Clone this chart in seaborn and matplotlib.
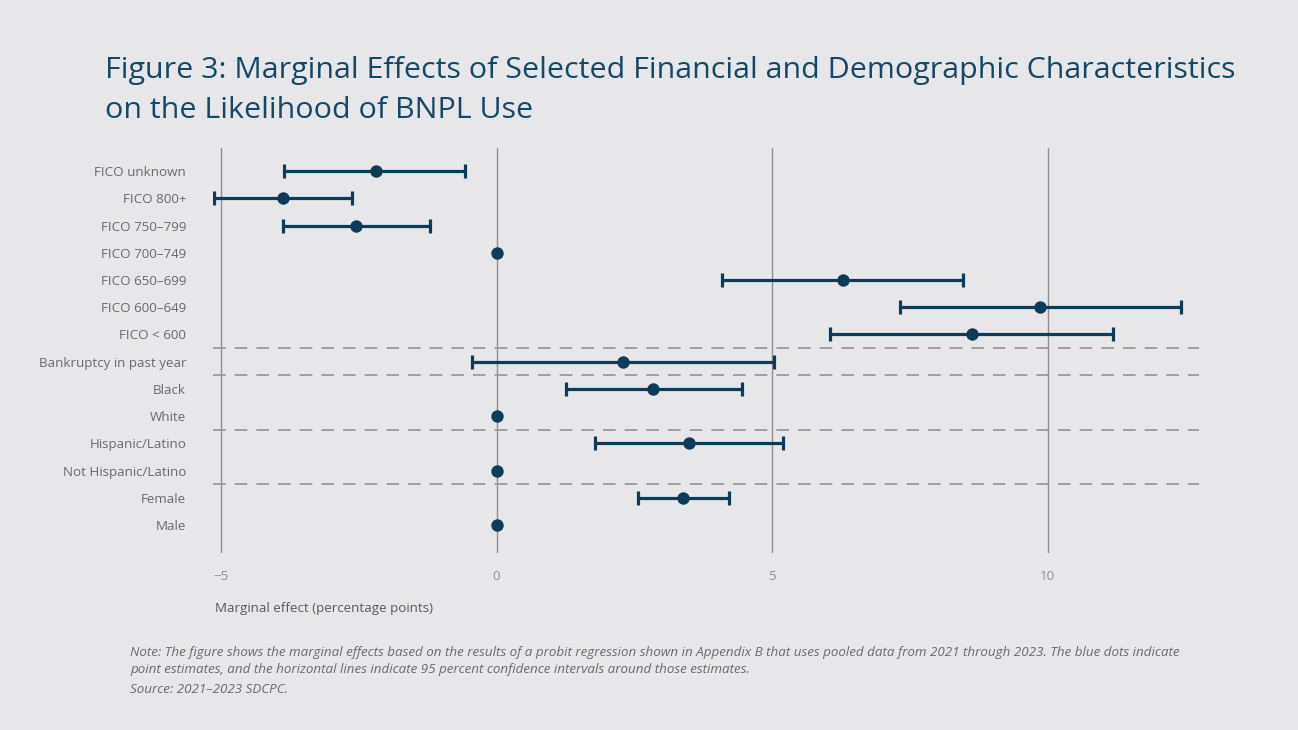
import numpy as np
import pandas as pd
import matplotlib
matplotlib.use("Agg")
import matplotlib.pyplot as plt
import seaborn as sns

# Data (percentage points)
labels = ["FICO unknown", "FICO 800+", "FICO 750–799", "FICO 700–749",
          "FICO 650–699", "FICO 600–649", "FICO < 600",
          "Bankruptcy in past year", "Black", "White",
          "Hispanic/Latino", "Not Hispanic/Latino", "Female", "Male"]
estimate = [-2.19, -3.87, -2.55, 0.0, 6.29, 9.86, 8.62,
            2.29, 2.84, 0.0, 3.49, 0.0, 3.38, 0.0]
ci_low = [-3.85, -5.12, -3.87, np.nan, 4.09, 7.32, 6.05,
          -0.44, 1.26, np.nan, 1.79, np.nan, 2.57, np.nan]
ci_high = [-0.57, -2.62, -1.21, np.nan, 8.46, 12.41, 11.18,
           5.03, 4.45, np.nan, 5.20, np.nan, 4.22, np.nan]
group_breaks = [6.5, 7.5, 9.5, 11.5]
x_ticks = [-5, 0, 5, 10]
x_tick_labels = ["\u22125", "0", "5", "10"]

df = pd.DataFrame({"label": labels, "est": estimate, "lo": ci_low, "hi": ci_high})
df["pos"] = np.arange(len(df))

BG = "#e7e7e9"
NAVY = "#0d3b58"
GRID = "#8f8f8f"

sns.set_theme(style="white")
plt.rcParams["font.family"] = ["Open Sans", "DejaVu Sans"]

fig = plt.figure(figsize=(12.98, 7.3), dpi=100, facecolor=BG)
ax = fig.add_axes([0.1638, 0.2425, 0.7603, 0.5548])
ax.set_facecolor(BG)

# vertical reference lines
for xv in x_ticks:
    ax.axvline(xv, color=GRID, lw=1.0, zorder=1)

# dashed separators between groups
for yb in group_breaks:
    ax.axhline(yb, color="#9a9a9a", lw=1.3, ls=(0, (7, 5)), zorder=1)

# confidence intervals
ci = df.dropna(subset=["lo", "hi"])
ax.errorbar(ci["est"], ci["pos"],
            xerr=[ci["est"] - ci["lo"], ci["hi"] - ci["est"]],
            fmt="none", ecolor=NAVY, elinewidth=2.3, capsize=5, capthick=2.3, zorder=2)

# point estimates
sns.scatterplot(data=df, x="est", y="pos", ax=ax, color=NAVY, s=80,
                edgecolor=NAVY, linewidth=0, zorder=3, legend=False)

ax.set_xlim(-5.15, 12.75)
ax.set_ylim(len(labels) - 1 + 1.03, -0.85)
ax.set_yticks(df["pos"])
ax.set_yticklabels(labels)
ax.set_xticks(x_ticks)
ax.set_xticklabels(x_tick_labels)
ax.tick_params(axis="y", length=0, pad=19, labelsize=9.6, labelcolor="#6a6a6a")
ax.tick_params(axis="x", length=0, pad=12, labelsize=9.6, labelcolor="#8f8f8f")
ax.set_xlabel("")
ax.set_ylabel("")
sns.despine(ax=ax, left=True, bottom=True, top=True, right=True)

fig.text(0.1656, 0.167, "Marginal effect (percentage points)", fontsize=9.6,
         color="#5a5a5a", ha="left", va="center")

fig.text(0.081, 0.893, "Figure 3: Marginal Effects of Selected Financial and Demographic Characteristics",
         fontsize=21.9, color="#154766", ha="left", va="baseline")
fig.text(0.081, 0.838, "on the Likelihood of BNPL Use",
         fontsize=21.9, color="#154766", ha="left", va="baseline")

note1 = ("Note: The figure shows the marginal effects based on the results of a probit regression shown in Appendix B "
         "that uses pooled data from 2021 through 2023. The blue dots indicate")
note2 = "point estimates, and the horizontal lines indicate 95 percent confidence intervals around those estimates."
for yy, txt in [(0.1068, note1), (0.0822, note2), (0.0548, "Source: 2021–2023 SDCPC.")]:
    fig.text(0.1, yy, txt, fontsize=9.65, style="italic", color="#6a6a6a",
             ha="left", va="center")

fig.savefig("out.png", dpi=100, facecolor=BG)
